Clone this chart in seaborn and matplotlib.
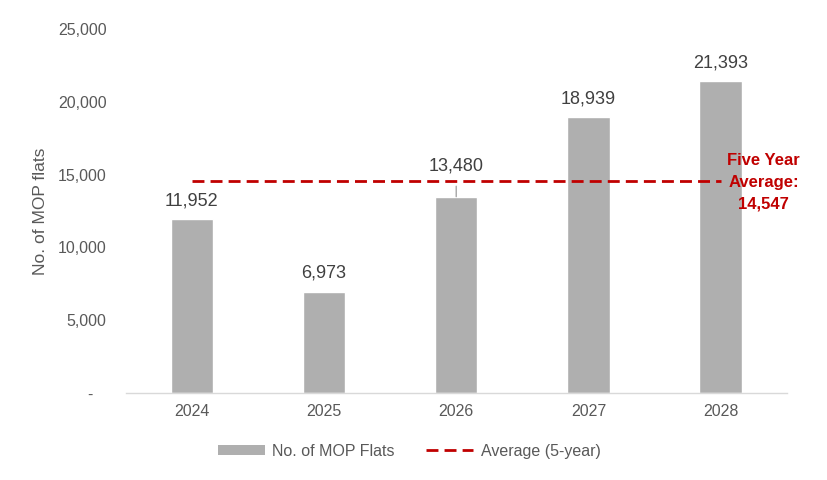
import matplotlib
matplotlib.use("Agg")
import matplotlib.pyplot as plt
import seaborn as sns
import pandas as pd
from matplotlib.ticker import FuncFormatter, MultipleLocator
from matplotlib.lines import Line2D
from matplotlib.patches import Patch

years = ["2024", "2025", "2026", "2027", "2028"]
flats = [11952, 6973, 13480, 18939, 21393]
avg_5yr = 14547

bar_color = "#AFAFAF"
red = "#C00000"
grey_text = "#595959"

sns.set_theme(style="white")
plt.rcParams["font.family"] = ["Liberation Sans", "DejaVu Sans"]

df = pd.DataFrame({"year": years, "flats": flats})

fig = plt.figure(figsize=(8.28, 4.8), dpi=100)
ax = fig.add_axes([0.152, 0.181, 0.798, 0.759])

sns.barplot(data=df, x="year", y="flats", color=bar_color, width=0.32,
            saturation=1, ax=ax)

xs = list(range(len(years)))
ax.plot(xs, [avg_5yr] * len(xs), color=red, lw=2, dashes=(4.3, 2.2))

ax.set_ylim(0, 25000)
ax.set_xlim(-0.5, len(years) - 0.5)
ax.yaxis.set_major_locator(MultipleLocator(5000))
ax.yaxis.set_major_formatter(FuncFormatter(lambda v, p: "-   " if v == 0 else f"{v:,.0f}"))

for s in ["top", "right", "left"]:
    ax.spines[s].set_visible(False)
ax.spines["bottom"].set_color("#D9D9D9")
ax.spines["bottom"].set_linewidth(1)
ax.tick_params(axis="both", length=0, labelsize=11.5, labelcolor=grey_text)
ax.tick_params(axis="y", pad=14)
ax.tick_params(axis="x", pad=8)

ax.set_xlabel("")
ax.set_ylabel("No. of MOP flats", fontsize=12.5, color=grey_text, labelpad=7)

# data labels
for i, v in enumerate(flats):
    if years[i] == "2026":
        ax.annotate(f"{v:,}", xy=(i, v), xytext=(0, 22), textcoords="offset points",
                    ha="center", va="center", fontsize=13, color="#404040",
                    arrowprops=dict(arrowstyle="-", color="#A6A6A6", lw=1,
                                    shrinkA=6, shrinkB=0))
    else:
        ax.annotate(f"{v:,}", xy=(i, v), xytext=(0, 13), textcoords="offset points",
                    ha="center", va="center", fontsize=13, color="#404040")

ax.annotate(f"Five Year\nAverage:\n{avg_5yr:,}", xy=(len(years) - 1, avg_5yr),
            xytext=(31, -1), textcoords="offset points", ha="center", va="center",
            fontsize=12, fontweight="bold", color=red, linespacing=1.55,
            annotation_clip=False)

handles = [Patch(facecolor=bar_color, edgecolor="none"),
           Line2D([0], [0], color=red, lw=2, dashes=(4.3, 2.2))]
fig.legend(handles, ["No. of MOP Flats", "Average (5-year)"], loc="center",
           bbox_to_anchor=(0.494, 0.06), ncol=2, frameon=False, fontsize=11.5,
           labelcolor=grey_text, handlelength=2.95, handleheight=0.6,
           columnspacing=2.0, handletextpad=0.45)

plt.savefig("out.png", dpi=100)
